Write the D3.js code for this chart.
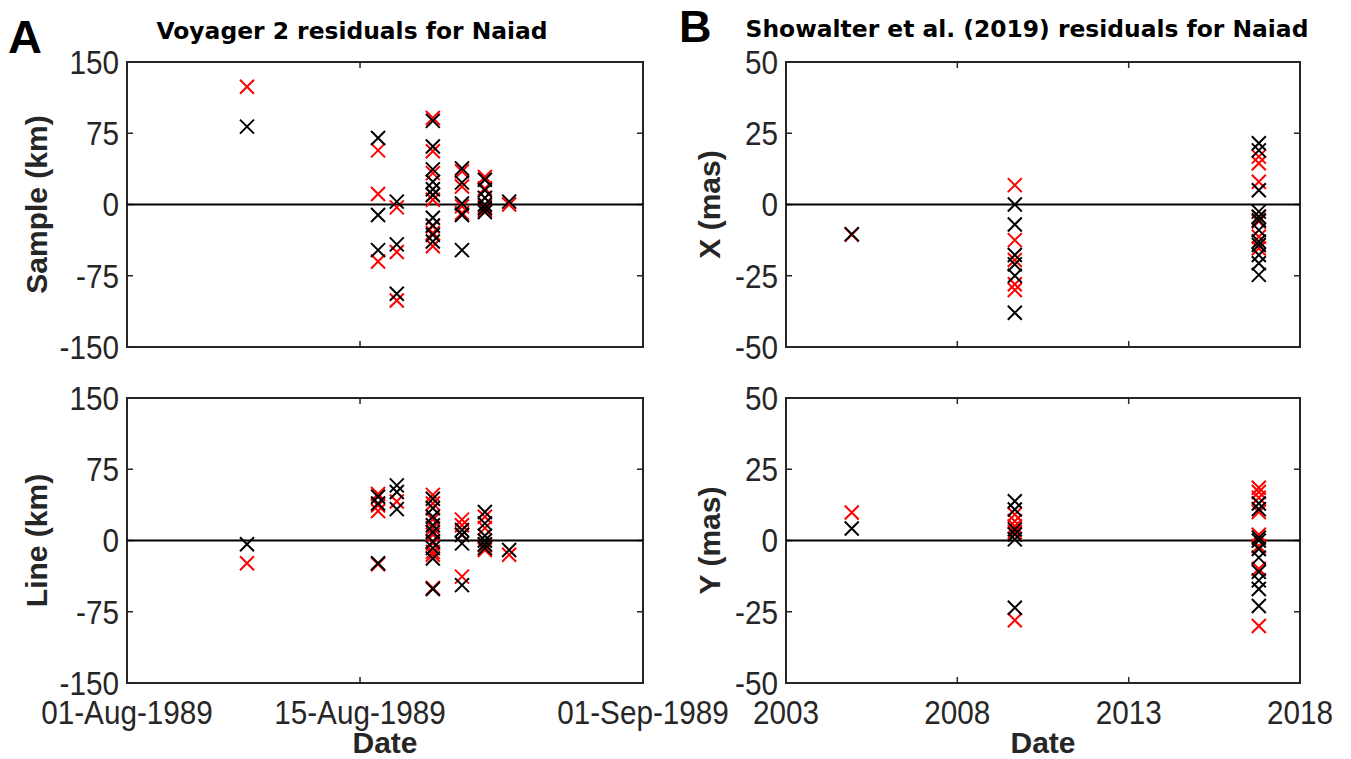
<!DOCTYPE html>
<html>
<head>
<meta charset="utf-8">
<script src="https://cdn.jsdelivr.net/npm/d3@7"></script>
<style>
  html, body { margin: 0; padding: 0; background: #fff; }
  svg { display: block; }
</style>
</head>
<body>
<svg id="chart" width="1351" height="759"></svg>
<script>
// ---------------- DATA ----------------
// Panel A: Voyager 2 epochs (Aug 1989), values grouped per epoch
const voyagerEpochs = ["1989-08-08T05:00", "1989-08-16T02:00", "1989-08-17T05:00",
                       "1989-08-19T09:00", "1989-08-21T03:00", "1989-08-22T12:00", "1989-08-23T23:00"];
const sampleBlack = [[82], [70, -11, -48], [3, -42, -94],
                     [88, 61, 37, 24, 16, 10, -14, -22, -32, -39],
                     [38, 23, 1, -11, -48], [26, 15, 7, 0, -4, -8], [3]];
const sampleRed   = [[124], [57, 11, -60], [-3, -50, -101],
                     [91, 56, 33, 10, 5, -23, -30, -44],
                     [35, 19, -2, -9], [29, 17, 7, -2, -6], [0]];
const lineBlack   = [[-4], [46, 39, -24], [58, 51, 33],
                     [44, 34, 25, 16, 9, -1, -8, -19, -51],
                     [11, 6, -3, -47], [30, 18, 5, 0, -4, -8], [-10]];
const lineRed     = [[-24], [49, 37, 31, -25], [41],
                     [48, 39, 22, 13, 6, -3, -12, -15, -50],
                     [22, 16, 6, -38], [25, 13, -5, -10], [-15]];

// Panel B: Showalter et al. (2019) epochs, values grouped per epoch
const hstEpochs = ["2004-12-02", "2009-09-05", "2016-10-19"];
const xBlack = [[-10.4], [0, -7, -17.7, -21, -25, -38],
                [21.5, 19, 5, -2.5, -4.3, -5.5, -9, -13, -14.2, -17.7, -20.6, -24.7]];
const xRed   = [[-10.6], [6.8, -12.5, -19.5, -28, -30],
                [16.8, 14.5, 8, -4.3, -6, -11.3, -15.4]];
const yBlack = [[4.2], [13.8, 10.9, 3.9, 2.1, 0.4, -23.6],
                [13, 11, 1, 0, -3, -6, -11, -14, -17, -23]];
const yRed   = [[9.8], [9.1, 6.8, 5, 3, -28],
                [18.5, 17, 15, 10, 2, -2, -10, -30]];

// Axis ticks / labels
const voyagerTicks = ["1989-08-01", "1989-08-15", "1989-09-01"];
const hstTicks = ["2003-01-01", "2008-01-01", "2013-01-01", "2018-01-01"];
const kmTicks = [150, 75, 0, -75, -150];
const masTicks = [50, 25, 0, -25, -50];
const titleA = "Voyager 2 residuals for Naiad";
const titleB = "Showalter et al. (2019) residuals for Naiad";

// ---------------- DRAWING ----------------
const svg = d3.select("#chart");
const parse = s => new Date(s);
const fmtVoy = d3.timeFormat("%d-%b-%Y");
const fmtYear = d3.timeFormat("%Y");

const AX = "#262626";
const tickFont = "'Liberation Sans', Arial, sans-serif";
const tickSize = 33;
const tickSX = 0.9;   // condensed look of the original tick labels
const boldFont = "'Liberation Sans', Arial, sans-serif";

function flatten(epochs, groups) {
  const out = [];
  groups.forEach((vals, i) => vals.forEach(v => out.push({ d: parse(epochs[i]), v })));
  return out;
}

function tickText(g, x, y, anchor, txt) {
  g.append("text")
    .attr("transform", `translate(${x},${y}) scale(${tickSX},1)`)
    .attr("text-anchor", anchor).attr("dy", "0.36em")
    .attr("font-family", tickFont).attr("font-size", tickSize).attr("fill", AX)
    .text(txt);
}

function panel(opts) {
  const { x0, x1, y0, y1, xDomain, yDomain, xTicks, yTicks, xFmt, showXLabels,
          ylabel, ylabelX, epochs, black, red } = opts;
  const g = svg.append("g");
  const x = d3.scaleTime().domain(xDomain.map(parse)).range([x0, x1]);
  const y = d3.scaleLinear().domain(yDomain).range([y1, y0]);
  const tl = 6;

  // box
  g.append("rect").attr("x", x0).attr("y", y0).attr("width", x1 - x0).attr("height", y1 - y0)
    .attr("fill", "none").attr("stroke", AX).attr("stroke-width", 2);

  // x ticks (inward, top and bottom)
  xTicks.map(parse).forEach(t => {
    const px = x(t);
    g.append("line").attr("x1", px).attr("x2", px).attr("y1", y1).attr("y2", y1 - tl)
      .attr("stroke", AX).attr("stroke-width", 1.5);
    g.append("line").attr("x1", px).attr("x2", px).attr("y1", y0).attr("y2", y0 + tl)
      .attr("stroke", AX).attr("stroke-width", 1.5);
    if (showXLabels) tickText(g, px, y1 + 29, "middle", xFmt(t));
  });

  // y ticks (inward, left and right) + labels
  yTicks.forEach(t => {
    const py = y(t);
    g.append("line").attr("x1", x0).attr("x2", x0 + tl).attr("y1", py).attr("y2", py)
      .attr("stroke", AX).attr("stroke-width", 1.5);
    g.append("line").attr("x1", x1).attr("x2", x1 - tl).attr("y1", py).attr("y2", py)
      .attr("stroke", AX).attr("stroke-width", 1.5);
    tickText(g, x0 - 8, py, "end", t);
  });

  // zero line
  g.append("line").attr("x1", x0).attr("x2", x1).attr("y1", y(0)).attr("y2", y(0))
    .attr("stroke", "#000").attr("stroke-width", 2);

  // y label
  g.append("text")
    .attr("transform", `translate(${ylabelX},${(y0 + y1) / 2}) rotate(-90)`)
    .attr("text-anchor", "middle").attr("font-family", boldFont).attr("font-weight", "bold")
    .attr("font-size", 30).attr("fill", AX).text(ylabel);

  // markers
  const r = 7;
  const cross = `M${-r},${-r}L${r},${r}M${-r},${r}L${r},${-r}`;
  const drawSet = (data, color) => {
    g.append("g").selectAll("path").data(data).join("path")
      .attr("d", cross)
      .attr("transform", p => `translate(${x(p.d)},${y(p.v)})`)
      .attr("fill", "none").attr("stroke", color).attr("stroke-width", 2);
  };
  drawSet(flatten(epochs, red), "#ff0000");
  drawSet(flatten(epochs, black), "#000000");
  return { x, y };
}

// Panel A
const A = { x0: 127, x1: 643 };
panel({ ...A, y0: 62, y1: 347, xDomain: ["1989-08-01", "1989-09-01"], yDomain: [-150, 150],
  xTicks: voyagerTicks, yTicks: kmTicks, xFmt: fmtVoy, showXLabels: false,
  ylabel: "Sample (km)", ylabelX: 47, epochs: voyagerEpochs, black: sampleBlack, red: sampleRed });
panel({ ...A, y0: 398, y1: 683, xDomain: ["1989-08-01", "1989-09-01"], yDomain: [-150, 150],
  xTicks: voyagerTicks, yTicks: kmTicks, xFmt: fmtVoy, showXLabels: true,
  ylabel: "Line (km)", ylabelX: 47, epochs: voyagerEpochs, black: lineBlack, red: lineRed });

// Panel B
const B = { x0: 786, x1: 1300 };
panel({ ...B, y0: 62, y1: 347, xDomain: ["2003-01-01", "2018-01-01"], yDomain: [-50, 50],
  xTicks: hstTicks, yTicks: masTicks, xFmt: fmtYear, showXLabels: false,
  ylabel: "X (mas)", ylabelX: 720, epochs: hstEpochs, black: xBlack, red: xRed });
panel({ ...B, y0: 398, y1: 683, xDomain: ["2003-01-01", "2018-01-01"], yDomain: [-50, 50],
  xTicks: hstTicks, yTicks: masTicks, xFmt: fmtYear, showXLabels: true,
  ylabel: "Y (mas)", ylabelX: 720, epochs: hstEpochs, black: yBlack, red: yRed });

// x-axis titles
[(127 + 643) / 2, (786 + 1300) / 2].forEach(cx => {
  svg.append("text").attr("x", cx).attr("y", 753).attr("text-anchor", "middle")
    .attr("font-family", boldFont).attr("font-weight", "bold").attr("font-size", 30)
    .attr("fill", AX).text("Date");
});

// panel titles
svg.append("text").attr("x", 352).attr("y", 39).attr("text-anchor", "middle")
  .attr("font-family", "'DejaVu Sans', sans-serif").attr("font-weight", "bold")
  .attr("font-size", 23.4).attr("fill", "#000").text(titleA);
svg.append("text").attr("x", 1027).attr("y", 37).attr("text-anchor", "middle")
  .attr("font-family", "'DejaVu Sans', sans-serif").attr("font-weight", "bold")
  .attr("font-size", 23.4).attr("fill", "#000").text(titleB);

// panel letters
svg.append("text").attr("x", 8).attr("y", 53)
  .attr("font-family", boldFont).attr("font-weight", "bold").attr("font-size", 47)
  .attr("fill", "#000").text("A");
svg.append("text").attr("x", 679).attr("y", 42)
  .attr("font-family", boldFont).attr("font-weight", "bold").attr("font-size", 45)
  .attr("fill", "#000").text("B");
</script>
</body>
</html>
